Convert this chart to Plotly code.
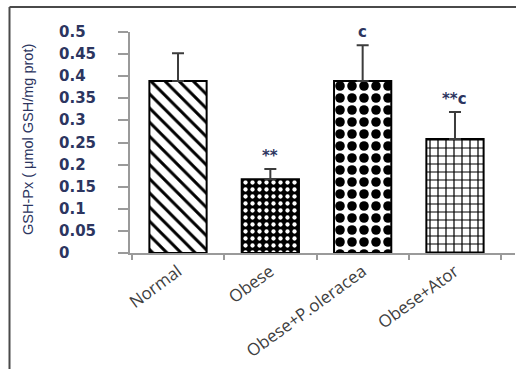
import plotly.graph_objects as go

# Glutathione peroxidase activity per group (mean and upper error)
groups = ["Normal", "Obese", "Obese+P.oleracea", "Obese+Ator"]
gsh_px = [0.389, 0.167, 0.389, 0.258]
gsh_err = [0.063, 0.023, 0.081, 0.061]
sig_marks = ["", "**", "c", "**c"]

y_tick_vals = [0, 0.05, 0.1, 0.15, 0.2, 0.25, 0.3, 0.35, 0.4, 0.45, 0.5]
y_tick_text = ["0", "0.05", "0.1", "0.15", "0.2", "0.25", "0.3", "0.35", "0.4", "0.45", "0.5"]

W, H = 516, 369
ML, MR, MT, MB = 130, 1, 32, 116
PW, PH = W - ML - MR, H - MT - MB


def px_x(p):
    return (p - ML) / PW


def px_y(p):
    return (H - MB - p) / PH


label_color = "#2c3560"
axis_color = "#9a9a9a"

fig = go.Figure()

fig.add_trace(go.Bar(
    x=groups,
    y=gsh_px,
    width=0.62,
    marker=dict(
        color="white",
        line=dict(color="black", width=2),
        pattern=dict(
            shape=["\\", ".", ".", "+"],
            bgcolor=["white", "black", "white", "white"],
            fgcolor=["black", "white", "black", "black"],
            size=[10, 7, 12, 8],
            solidity=[0.3, 0.3, 0.5, 0.28],
            fillmode="replace",
        ),
    ),
    error_y=dict(
        type="data",
        symmetric=False,
        array=gsh_err,
        arrayminus=[0] * len(gsh_err),
        color="#3c3c3c",
        thickness=2,
        width=6,
    ),
    hoverinfo="skip",
))

annotations = []

# significance marks above the error caps
for g, v, e, m in zip(groups, gsh_px, gsh_err, sig_marks):
    if m:
        annotations.append(dict(
            x=g, y=v + e, xref="x", yref="y",
            text=m, showarrow=False,
            yanchor="bottom", yshift=2,
            font=dict(family="DejaVu Sans", size=15, color=label_color, weight="bold"),
        ))

# left-aligned value labels of the y axis
for v, t in zip(y_tick_vals, y_tick_text):
    annotations.append(dict(
        x=px_x(57), y=v, xref="paper", yref="y",
        text=t, showarrow=False,
        xanchor="left", yanchor="middle",
        font=dict(family="DejaVu Sans", size=15, color=label_color, weight="bold"),
    ))

annotations.append(dict(
    x=px_x(28), y=px_y(140), xref="paper", yref="paper",
    text="GSH-Px ( μmol GSH/mg prot)", showarrow=False,
    textangle=-90, xanchor="center", yanchor="middle",
    font=dict(family="Liberation Sans", size=14.5, color=label_color),
))

shapes = [
    dict(type="line", xref="paper", yref="paper",
         x0=px_x(9.5), x1=px_x(9.5), y0=px_y(7), y1=px_y(H + 2),
         line=dict(color="#4a4a4a", width=2)),
    dict(type="line", xref="paper", yref="paper",
         x0=px_x(9.5), x1=px_x(W + 2), y0=px_y(7), y1=px_y(7),
         line=dict(color="#4a4a4a", width=2)),
]

fig.update_layout(
    width=W, height=H,
    margin=dict(l=ML, r=MR, t=MT, b=MB, autoexpand=False),
    paper_bgcolor="white", plot_bgcolor="white",
    showlegend=False,
    annotations=annotations,
    shapes=shapes,
    xaxis=dict(
        type="category",
        range=[-0.52, 3.65],
        tickson="boundaries",
        ticks="outside", ticklen=5, tickwidth=2, tickcolor=axis_color,
        showline=True, linecolor=axis_color, linewidth=2,
        tickangle=-36,
        tickfont=dict(family="Open Sans", size=17, color="#404040"),
        showgrid=False, zeroline=False, automargin=False,
    ),
    yaxis=dict(
        range=[0, 0.5],
        tickvals=y_tick_vals,
        showticklabels=False,
        ticks="outside", ticklen=10, tickwidth=2, tickcolor=axis_color,
        showline=True, linecolor=axis_color, linewidth=2,
        showgrid=False, zeroline=False, automargin=False,
    ),
)

fig.write_html("out.html")
